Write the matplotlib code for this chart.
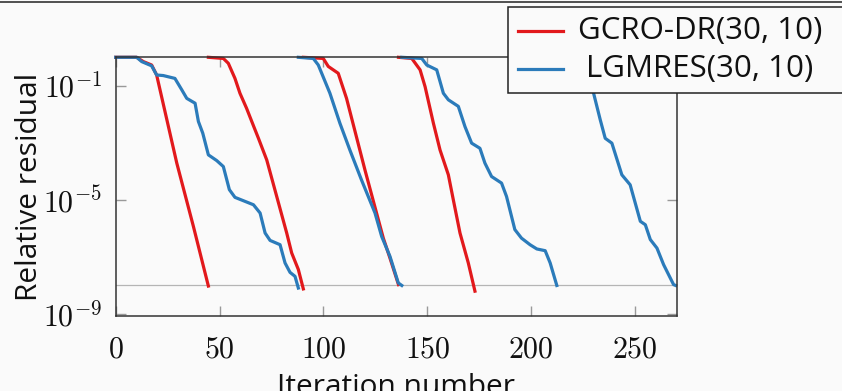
import matplotlib
matplotlib.use('Agg')
import matplotlib.pyplot as plt
import numpy as np
from matplotlib.lines import Line2D
from matplotlib.patches import Rectangle
from matplotlib.ticker import FuncFormatter

plt.rcParams['font.family'] = ['Open Sans', 'DejaVu Sans']
plt.rcParams['mathtext.fontset'] = 'cm'

# Data: cumulative iteration number and log10 of relative residual, one run per system
gcro_x1 = [0, 10.1, 13.3, 17.3, 19.7, 29.4, 37.4, 44.6]
gcro_y1 = [0, 0, -0.15, -0.27, -0.62, -3.71, -5.93, -8.02]
gcro_x2 = [44.6, 51.8, 54.2, 57.4, 59.8, 63.0, 66.3, 68.7, 72.7, 77.5, 82.3, 84.7, 87.9, 90.3]
gcro_y2 = [0, -0.04, -0.21, -0.74, -1.26, -1.79, -2.40, -2.84, -3.60, -4.88, -6.16, -6.86, -7.44, -8.12]
gcro_x3 = [90.3, 99.9, 102.3, 107.1, 111.1, 120.0, 128.8, 132.0, 136.1]
gcro_y3 = [0, -0.04, -0.32, -0.56, -1.44, -3.96, -6.34, -7.04, -7.97]
gcro_x4 = [136.1, 142.5, 146.5, 148.9, 152.9, 156.1, 160.1, 162.5, 165.7, 169.7, 172.9]
gcro_y4 = [0, -0.04, -0.44, -1.03, -2.31, -3.25, -4.12, -5.00, -6.16, -7.21, -8.20]

lgm_x1 = [0, 10.1, 12.5, 17.3, 19.7, 22.9, 28.5, 31.8, 34.2, 38.2, 39.8, 41.9, 44.6, 48.6,
          51.8, 54.7, 57.4, 62.2, 66.3, 69.5, 71.9, 74.3, 79.1, 81.5, 83.9, 86.3, 87.9]
lgm_y1 = [0, 0, -0.15, -0.30, -0.62, -0.64, -0.74, -1.14, -1.44, -1.61, -2.25, -2.66, -3.42, -3.62,
          -3.83, -4.64, -4.91, -5.05, -5.17, -5.46, -6.16, -6.42, -6.57, -7.21, -7.54, -7.68, -8.09]
lgm_x2 = [87.9, 95.1, 97.5, 103.1, 107.9, 112.7, 118.3, 124.8, 128.0, 132.0, 136.0, 137.7]
lgm_y2 = [0, -0.04, -0.27, -1.26, -2.31, -3.25, -4.30, -5.46, -6.28, -6.98, -7.91, -8.0]
lgm_x3 = [137.7, 147.3, 149.7, 154.5, 157.7, 160.1, 164.9, 168.1, 171.3, 175.3, 177.7, 180.9,
          185.7, 188.1, 192.1, 195.3, 199.4, 202.7, 206.7, 209.1, 212.3]
lgm_y3 = [0, -0.04, -0.27, -0.44, -1.26, -1.49, -1.72, -2.43, -3.01, -3.19, -3.71, -4.18,
          -4.41, -4.88, -6.04, -6.34, -6.57, -6.72, -6.78, -7.21, -8.0]
lgm_x4 = [212.3, 219, 222, 226, 228.5, 230.0, 233.2, 235.6, 238.8, 243.6, 247.6, 252.5,
          254.9, 257.3, 260.5, 263.7, 268.5, 269.5]
lgm_y4 = [0, -0.04, -0.3, -0.6, -1.0, -1.26, -2.19, -2.84, -3.01, -4.12, -4.47, -5.75,
          -5.87, -6.39, -6.69, -7.27, -7.97, -8.0]

tolerance = 1e-8
xticks = [0, 50, 100, 150, 200, 250]
yticks = [1e-1, 1e-5, 1e-9]
labels = ['GCRO-DR(30, 10)', 'LGMRES(30, 10)']

red = '#e2191c'
blue = '#2b7bba'
bg = '#fafafa'

fig = plt.figure(figsize=(8.42, 3.91), dpi=100, facecolor=bg)
ax = fig.add_axes([115.7 / 842, 1 - 316 / 391, 561 / 842, 258.7 / 391])
ax.set_facecolor(bg)

for xs, ys in [(gcro_x1, gcro_y1), (gcro_x2, gcro_y2), (gcro_x3, gcro_y3), (gcro_x4, gcro_y4)]:
    ax.plot(xs, 10.0 ** np.array(ys), color=red, lw=2.3, solid_joinstyle='round', clip_on=False, zorder=2)
for xs, ys in [(lgm_x1, lgm_y1), (lgm_x2, lgm_y2), (lgm_x3, lgm_y3), (lgm_x4, lgm_y4)]:
    ax.plot(xs, 10.0 ** np.array(ys), color=blue, lw=2.3, solid_joinstyle='round', clip_on=False, zorder=2.1)

ax.axhline(tolerance, color='#b5b5b5', lw=0.9, zorder=1)

ax.set_yscale('log')
ax.set_xlim(0, 270)
ax.set_ylim(10 ** -9.07, 1)
ax.set_xticks(xticks)
ax.set_yticks(yticks)
ax.minorticks_off()
ax.xaxis.set_major_formatter(FuncFormatter(lambda v, p: r'$%d$' % v))
ax.yaxis.set_major_formatter(FuncFormatter(lambda v, p: r'$10^{%d}$' % round(np.log10(v))))
ax.tick_params(direction='in', length=7.5, width=1, color='#999999', top=True, right=True,
               labelsize=21.5, labelcolor='#111111')
ax.tick_params(axis='x', pad=14)
ax.tick_params(axis='y', pad=10)
for s in ax.spines.values():
    s.set_color('#333333')
    s.set_linewidth(1.1)

ax.set_xlabel('Iteration number', fontsize=21.5, color='#111111')
ax.xaxis.set_label_coords(0.5, -0.22)
ax.set_ylabel('Relative residual', fontsize=21.5, color='#111111')
ax.yaxis.set_label_coords(-0.128, 0.5)

# top frame line
fig.add_artist(Line2D([0, 1], [1 - 1.7 / 391] * 2, transform=fig.transFigure, color='#333333', lw=1.2))

# legend box with centred entries
fig.add_artist(Rectangle((508 / 842, 1 - 93 / 391), 360 / 842, 86 / 391, transform=fig.transFigure,
                         facecolor=bg, edgecolor='#222222', lw=1.1, zorder=10))
for i, (lab, col) in enumerate(zip(labels, [red, blue])):
    yy = 1 - (31 + 37.5 * i) / 391
    fig.add_artist(Line2D([518 / 842, 563 / 842], [yy, yy], transform=fig.transFigure, color=col, lw=2.3, zorder=11))
    fig.text(700 / 842, yy, lab, ha='center', va='center', fontsize=22.5, color='#111111', zorder=11)

fig.savefig('out.png', dpi=100, facecolor=bg)
